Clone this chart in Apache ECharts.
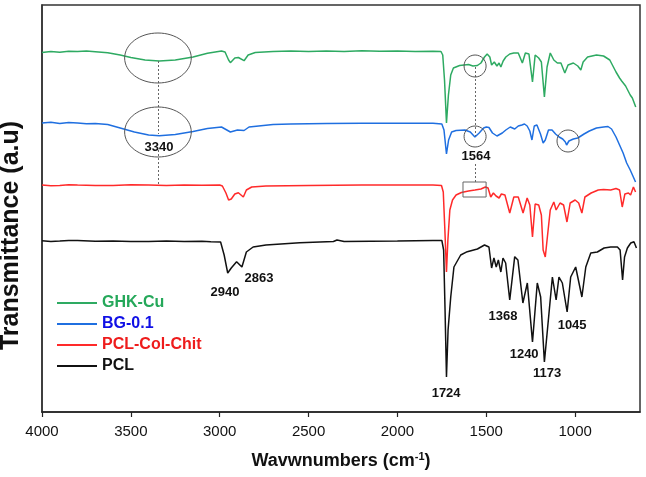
<!DOCTYPE html>
<html><head><meta charset="utf-8">
<script src="https://cdn.jsdelivr.net/npm/echarts@6/dist/echarts.min.js"></script>
<style>html,body{margin:0;padding:0;background:#fff}#c{width:646px;height:477px}</style>
</head><body><div id="c"></div>
<script>
const FONT = '"Liberation Sans", Arial, sans-serif';
const seriesNames = ['GHK-Cu', 'BG-0.1', 'PCL-Col-Chit', 'PCL'];
const lineColors = ['#2eaa62', '#1f6fe0', '#ff2a2a', '#111111'];
const legendTextColors = ['#25a85a', '#1010e6', '#ee1c1c', '#111111'];
const xTicks = [4000, 3500, 3000, 2500, 2000, 1500, 1000];

// [wavenumber, transmittance (a.u.)]
const ghkCu = [[4000,359.5],[3950,360.5],[3900,359.8],[3850,360.8],[3800,360.5],[3750,361],[3700,360.3],[3630,359.3],[3560,357],[3500,354.5],[3420,352],[3340,351],[3250,352],[3150,355],[3069,358.7],[2990,361],[2970,360],[2950,352],[2940,349.3],[2915,354],[2895,354.5],[2863,351.3],[2840,357],[2800,359.5],[2700,360.5],[2600,361],[2500,360.6],[2400,361],[2300,360.5],[2200,361.2],[2100,360.8],[2000,361],[1900,360.6],[1800,360.8],[1755,360.5],
  [1745,357],[1735,332],[1724,289],[1713,317],[1700,337],[1685,344],[1650,346.5],[1600,347.5],[1575,346],[1564,345],[1550,346.5],[1530,349],[1510,355],[1495,358],[1480,355],[1470,347],[1455,350],[1440,346],[1428,349],[1418,345],[1405,351],[1390,355],[1368,358],[1345,359],[1320,359],[1297,349],[1280,359],[1260,358],[1240,330],[1225,357],[1205,354],[1190,350],[1173,315],[1158,345],[1140,359],[1120,352],[1100,349],[1080,349],[1058,339],[1040,347],[1010,349],[985,346],[968,342],[955,350],[930,355],[880,357],[840,356],[805,352],[770,340],[750,334],[738,331],[730,333],[716,326],[705,324],[690,317],[678,314],[670,312],[659,305]];
const bg01 = [[4000,289],[3950,289.8],[3900,288.5],[3850,289.5],[3800,289],[3750,288.2],[3700,288.5],[3630,287.5],[3560,284],[3480,280],[3400,277],[3340,276.3],[3250,277.5],[3150,280.5],[3069,283.5],[2990,285],[2960,282],[2940,280],[2900,282],[2863,281.5],[2835,285],[2700,287.5],[2600,288],[2400,288.5],[2200,288.8],[2000,288.7],[1800,288.7],[1750,288],
  [1738,282],[1724,258],[1712,272],[1695,280],[1670,281.5],[1620,282],[1590,280],[1564,275],[1540,279],[1515,284],[1500,285],[1485,284.5],[1465,279],[1440,276],[1430,274],[1410,279],[1390,282],[1365,285],[1340,283],[1320,286],[1300,287],[1285,288],[1270,286],[1255,281],[1243,272],[1230,286],[1215,287],[1195,278],[1180,269],[1168,272],[1150,282],[1130,282],[1110,278],[1090,275],[1070,273],[1055,270],[1048,267],[1035,271],[1010,273],[985,274],[950,278],[920,281],[880,284],[840,285],[815,285.5],[795,283],[770,275],[750,267],[730,259],[710,249],[690,242],[675,236],[660,230]];
const pclColChit = [[4000,227],[3950,226.3],[3900,226.5],[3850,227.3],[3800,227],[3700,226.6],[3600,226.5],[3500,227.2],[3400,227],[3300,226.6],[3200,227],[3100,226.7],[3000,227],[2985,226],[2965,219],[2950,212],[2935,213],[2915,218],[2895,219.3],[2867,215],[2850,222],[2820,225],[2740,226],[2500,226.5],[2200,227],[2000,227],[1800,227],[1752,226.5],
  [1742,220],[1733,182],[1724,140],[1716,172],[1705,202],[1690,212],[1670,217],[1640,219.5],[1600,221],[1564,222],[1530,223],[1505,225],[1490,224],[1475,215],[1460,219],[1445,216],[1428,214],[1415,218],[1395,217],[1368,199],[1345,215],[1320,215],[1293,199],[1270,214],[1255,207],[1240,175],[1225,208],[1205,207],[1190,197],[1180,162],[1168,155],[1158,172],[1140,202],[1120,210],[1107,202],[1085,209],[1065,207],[1046,190],[1028,209],[1000,212],[980,209],[962,199],[945,215],[910,219],[870,222],[840,222.5],[800,222],[770,223.5],[750,222],[735,205],[720,218],[700,219],[688,217],[672,225],[660,220]];
const pcl = [[4000,171.3],[3950,170.6],[3900,171],[3850,171.6],[3800,171.5],[3700,170.8],[3600,171],[3500,170.6],[3400,170.5],[3300,171],[3200,170.5],[3100,170.8],[3050,170.3],[2995,170],[2975,157],[2955,139],[2935,144],[2905,150.3],[2875,145],[2850,160],[2812,165],[2740,167],[2550,169.3],[2360,170.5],[2340,172],[2300,170.5],[2000,171],[1800,171.5],[1750,171.5],
  [1740,162],[1732,102],[1724,35],[1715,82],[1700,115],[1682,145],[1644,157],[1607,160.3],[1550,163],[1510,167],[1485,165],[1470,144],[1457,154],[1444,145],[1432,152],[1418,140],[1406,154],[1391,149],[1368,112],[1340,155.3],[1322,152],[1294,109],[1269,129],[1240,70],[1213,129],[1194,115],[1173,50],[1147,99],[1128,135],[1107,112],[1091,135],[1072,129],[1045,100],[1025,135],[997,145],[962,115],[940,145],[912,159],[875,160],[837,164],[800,165],[762,165],[747,162],[733,132],[722,155],[706,164],[687,169],[669,170.3],[655,164]];

// annotations in data coordinates
const ellipses = [ // [wnLeft, wnRight, vTop, vBottom]
  [3535, 3160, 379, 329],
  [3535, 3160, 305, 255],
  [1625, 1501, 357, 335],
  [1625, 1501, 286, 265],
  [1102, 978, 282, 260]
];
const boxes = [[1631, 1501, 230, 215]];
const dashLines = [[3345, 351, 278], [3345, 262, 228], [1563, 345, 276], [1563, 248, 230]];
const peakLabels = [
  ['3340', 3342, 265], ['1564', 1558, 256], ['2940', 2970, 120], ['2863', 2779, 134],
  ['1724', 1726, 19], ['1368', 1406, 96], ['1240', 1287, 58], ['1173', 1158, 39], ['1045', 1017, 87]
];

const dataSets = [ghkCu, bg01, pclColChit, pcl];
const chart = echarts.init(document.getElementById('c'), null, {renderer: 'canvas'});
const series = dataSets.map((d, i) => ({
  name: seriesNames[i], type: 'line', data: d, showSymbol: false, symbol: 'none',
  lineStyle: {color: lineColors[i], width: 1.5}, itemStyle: {color: lineColors[i]},
  z: 3 + i, silent: true
}));
series[3].markLine = {
  silent: true, symbol: ['none', 'none'], label: {show: false},
  lineStyle: {color: '#666', width: 1, type: [2, 2]},
  data: dashLines.map(l => [{coord: [l[0], l[1]]}, {coord: [l[0], l[2]]}])
};
chart.setOption({
  animation: false,
  backgroundColor: '#fff',
  textStyle: {fontFamily: FONT},
  grid: {left: 42, right: 6, top: 5, bottom: 65, show: true, borderColor: '#333', borderWidth: 1.5, outerBoundsMode: 'none', containLabel: false},
  legend: {
    orient: 'vertical', left: 52, top: 290, itemWidth: 40, itemHeight: 2, itemGap: 5,
    icon: 'rect',
    textStyle: {fontSize: 16, fontWeight: 'bold', fontFamily: FONT, lineHeight: 16},
    data: seriesNames.map((n, i) => ({name: n, textStyle: {color: legendTextColors[i]}}))
  },
  xAxis: {
    type: 'value', inverse: true, min: 635, max: 4000,
    axisLine: {show: true, lineStyle: {color: '#222', width: 1.5}},
    axisTick: {show: true, inside: false, length: 5, lineStyle: {color: '#222', width: 1.2}, customValues: xTicks},
    axisLabel: {customValues: xTicks, fontSize: 15, color: '#111', margin: 12, fontFamily: FONT, formatter: v => String(v)},
    splitLine: {show: false},
    name: '{a|Wavwnumbers (cm}{s|-1}{a|)}', nameLocation: 'middle', nameGap: 39,
    nameTextStyle: {rich: {
      a: {fontSize: 18, fontWeight: 'bold', color: '#111', fontFamily: FONT, lineHeight: 20},
      s: {fontSize: 11, fontWeight: 'bold', color: '#111', fontFamily: FONT, verticalAlign: 'top', lineHeight: 20}
    }}
  },
  yAxis: {
    type: 'value', min: 0, max: 407,
    axisLine: {show: true, lineStyle: {color: '#333', width: 1.5}},
    axisTick: {show: false}, axisLabel: {show: false}, splitLine: {show: false},
    name: 'Transmittance (a.u)', nameLocation: 'middle', nameGap: 18,
    nameTextStyle: {fontSize: 25, fontWeight: 'bold', color: '#111', fontFamily: FONT, padding: [0, 54, 0, 0]}
  },
  series: series
});

const px = (wn, v) => chart.convertToPixel({gridIndex: 0}, [wn, v]);
const graphics = [];
ellipses.forEach(e => {
  const a = px(e[0], e[2]), b = px(e[1], e[3]);
  graphics.push({type: 'ellipse', silent: true, z: 20,
    shape: {cx: (a[0] + b[0]) / 2, cy: (a[1] + b[1]) / 2, rx: Math.abs(b[0] - a[0]) / 2, ry: Math.abs(b[1] - a[1]) / 2},
    style: {fill: 'none', stroke: '#555', lineWidth: 1}});
});
boxes.forEach(r => {
  const a = px(r[0], r[2]), b = px(r[1], r[3]);
  graphics.push({type: 'rect', silent: true, z: 20,
    shape: {x: Math.min(a[0], b[0]), y: Math.min(a[1], b[1]), width: Math.abs(b[0] - a[0]), height: Math.abs(b[1] - a[1])},
    style: {fill: 'none', stroke: '#666', lineWidth: 1}});
});
peakLabels.forEach(p => {
  const a = px(p[1], p[2]);
  graphics.push({type: 'text', silent: true, z: 30,
    style: {text: p[0], x: a[0], y: a[1], align: 'center', verticalAlign: 'middle',
      font: 'bold 13px ' + FONT, fill: '#111'}});
});
chart.setOption({graphic: graphics});
</script>
</body></html>
